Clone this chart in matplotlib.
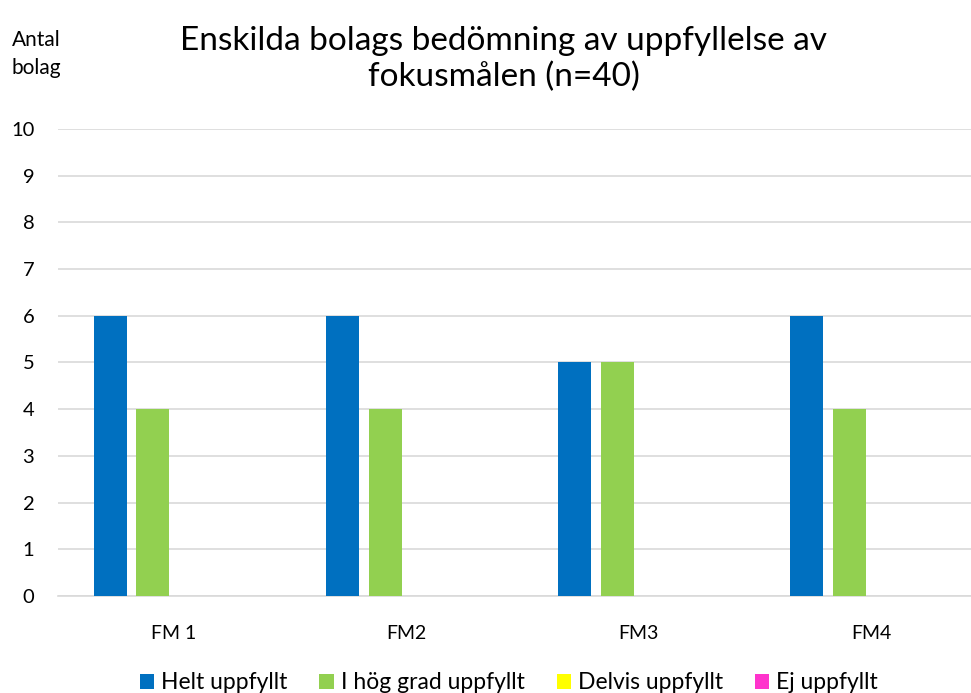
import matplotlib.pyplot as plt
import numpy as np

plt.rcParams['font.family'] = ['Lato', 'DejaVu Sans']

categories = ['FM 1', 'FM2', 'FM3', 'FM4']
series_names = ['Helt uppfyllt', 'I hög grad uppfyllt', 'Delvis uppfyllt', 'Ej uppfyllt']
helt = [6, 6, 5, 6]
hog_grad = [4, 4, 5, 4]
delvis = [0, 0, 0, 0]
ej = [0, 0, 0, 0]
colors = ['#0070C0', '#92D050', '#FFFF00', '#FF33CC']
yticks = list(range(0, 11))

fig = plt.figure(figsize=(9.71, 6.93), dpi=100)
ax = fig.add_axes([0.0597, 0.140, 0.957, 0.674])

x = np.arange(len(categories))
width = 0.142
step = 0.184
for i, (vals, name, c) in enumerate(zip([helt, hog_grad, delvis, ej], series_names, colors)):
    ax.bar(x + (i - 1.5) * step, vals, width, color=c, label=name, zorder=3)

ax.set_xlim(-0.5, 3.5)
ax.set_ylim(0, 10)
ax.set_yticks(yticks)
ax.set_xticks(x)
ax.set_xticklabels(categories, fontsize=14)
ax.tick_params(axis='y', labelsize=14.5, length=0, pad=17)
ax.tick_params(axis='x', length=0, pad=21)
ax.grid(axis='y', color='#D9D9D9', linewidth=1.2, zorder=0)
for s in ['top', 'right', 'left']:
    ax.spines[s].set_visible(False)
ax.spines['bottom'].set_color('#D9D9D9')
ax.spines['bottom'].set_linewidth(1.2)

fig.text(0.519, 0.915, 'Enskilda bolags bedömning av uppfyllelse av\nfokusmålen (n=40)',
         ha='center', va='center', fontsize=24, linespacing=1.22)
fig.text(0.012, 0.922, 'Antal\nbolag', ha='left', va='center', fontsize=15, linespacing=1.55)

fig.legend(loc='lower center', bbox_to_anchor=(0.524, -0.03), ncol=4, fontsize=16.5,
           frameon=False, handlelength=0.62, handleheight=0.62, handletextpad=0.3,
           columnspacing=1.4)

fig.savefig('out.png', dpi=100)
